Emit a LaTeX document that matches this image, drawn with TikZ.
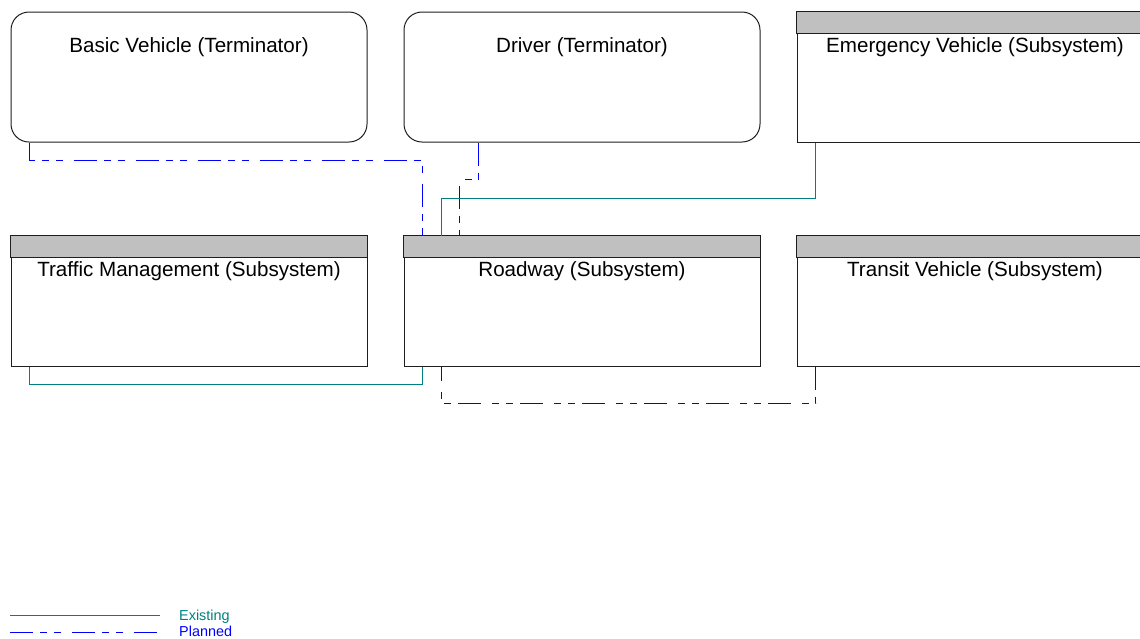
\documentclass[tikz,border=0pt]{standalone}
\usepackage{fontspec}
\setmainfont{Liberation Sans}
\usetikzlibrary{calc}
\definecolor{existcol}{RGB}{0,128,128}
\definecolor{plancol}{RGB}{0,0,255}
\definecolor{headgray}{RGB}{192,192,192}
\definecolor{framecol}{RGB}{30,30,30}
\tikzset{
  boxbase/.style={draw=framecol, line width=1pt, inner sep=0pt,
    minimum width=356pt, minimum height=130pt, anchor=north west},
  termbox/.style={boxbase, rounded corners=18pt},
  subbox/.style={boxbase},
  headbar/.style={fill=headgray, draw=framecol, line width=1pt},
  boxtitle/.style={anchor=base, inner sep=0pt, font=\fontsize{20.6}{24}\selectfont},
  existing/.style={color=existcol, line width=1pt},
  planned/.style={color=plancol, line width=1pt,
    dash pattern=on 23pt off 7pt on 7pt off 7pt on 7pt off 11pt},
  legendtext/.style={anchor=base west, inner sep=0pt, font=\fontsize{14.4}{17}\selectfont},
}
\begin{document}
\begin{tikzpicture}[x=1pt, y=-1pt]
\useasboundingbox (0,0) rectangle (1140,638);
\clip (0,0) rectangle (1140,638);

% terminators (edges on pixel centres for crisp 1pt lines)
\node[termbox] (bv) at (10.5,11.5) {};
\node[termbox] (drv) at (403.5,11.5) {};
% subsystems
\node[subbox] (ev) at (796.5,11.5) {};
\node[subbox] (tm) at (10.5,235.5) {};
\node[subbox] (rw) at (403.5,235.5) {};
\node[subbox] (tv) at (796.5,235.5) {};

% grey header bars of the subsystems
\foreach \b in {ev,tm,rw,tv}{
  \draw[headbar] (\b.north west) rectangle ([yshift=-22pt]\b.north east);
}

% titles
\node[boxtitle] (bvt) at ([yshift=-40.5pt]bv.north) {Basic Vehicle (Terminator)};
\node[boxtitle] (drvt) at ([yshift=-40.5pt]drv.north) {Driver (Terminator)};
\node[boxtitle] (evt) at ([yshift=-40.5pt]ev.north) {Emergency Vehicle (Subsystem)};
\node[boxtitle] (tmt) at ([yshift=-40.5pt]tm.north) {Traffic Management (Subsystem)};
\node[boxtitle] (rwt) at ([yshift=-40.5pt]rw.north) {Roadway (Subsystem)};
\node[boxtitle] (tvt) at ([yshift=-40.5pt]tv.north) {Transit Vehicle (Subsystem)};

% flows into and out of the roadway
\draw[planned] ([xshift=19pt]bv.south west) -- ++(0,18) -| ([xshift=19pt]rw.north west);
\draw[planned] ([xshift=75pt]drv.south west) -- ++(0,37) -| ([xshift=56pt]rw.north west);
\draw[existing] ([xshift=19pt]ev.south west) -- ++(0,56) -| ([xshift=38pt]rw.north west);
\draw[existing] ([xshift=19pt]tm.south west) -- ++(0,18) -| ([xshift=19pt]rw.south west);
\draw[planned] ([xshift=19pt]tv.south west) -- ++(0,37) -| ([xshift=38pt]rw.south west);

% legend
\coordinate (le1) at (10,615.5);
\coordinate (le2) at (160,615.5);
\coordinate (lp1) at (10,632.5);
\coordinate (lp2) at (157,632.5);
\draw[existing] (le1) -- (le2);
\draw[planned] (lp1) -- (lp2);
\node[legendtext, text=existcol] (lex) at (179,620.7) {Existing};
\node[legendtext, text=plancol] (lpl) at (179,636.7) {Planned};
\end{tikzpicture}
\end{document}
